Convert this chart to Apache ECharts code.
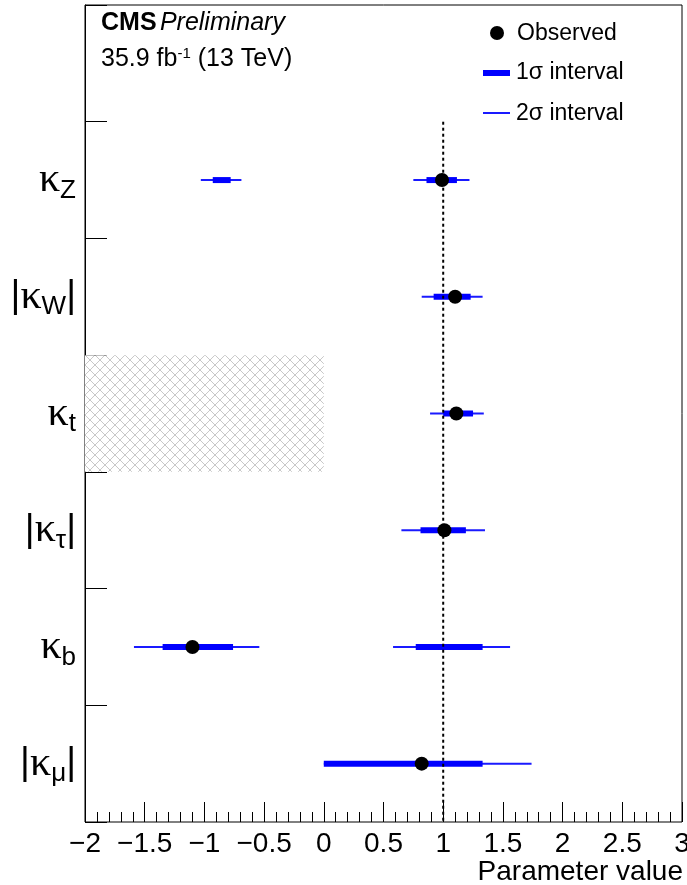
<!DOCTYPE html>
<html>
<head>
<meta charset="utf-8">
<script src="https://cdn.jsdelivr.net/npm/echarts@6/dist/echarts.min.js"></script>
<style>
  html, body { margin: 0; padding: 0; background: #fff; }
  #main { width: 687px; height: 885px; }
</style>
</head>
<body>
<div id="main"></div>
<script>
// parameters, top to bottom
const params = ["kZ", "kW", "kt", "ktau", "kb", "kmu"];
const paramSub = ["Z", "W", "t", "τ", "b", "μ"];
const paramAbs = [false, true, false, true, false, true];

const observed = [0.99, 1.1, 1.11, 1.01, -1.1, 0.82];

// [param, low, high]
const oneSigma = [
  ["kZ", -0.93, -0.78], ["kZ", 0.86, 1.115],
  ["kW", 0.92, 1.23],
  ["kt", 1.0, 1.25],
  ["ktau", 0.81, 1.19],
  ["kb", -1.35, -0.76], ["kb", 0.77, 1.33],
  ["kmu", 0.0, 1.33]
];
const twoSigma = [
  ["kZ", -1.03, -0.69], ["kZ", 0.75, 1.22],
  ["kW", 0.82, 1.33],
  ["kt", 0.89, 1.34],
  ["ktau", 0.65, 1.35],
  ["kb", -1.59, -0.54], ["kb", 0.58, 1.56],
  ["kmu", 0.0, 1.74]
];
// excluded region (hatched)
const excluded = [["kt", -2, 0]];

const xMin = -2, xMax = 3, xStep = 0.5;
const smRef = 1;

const yCats = [""].concat(params);
const idx = (p) => yCats.indexOf(p);

const FONT = "Liberation Sans, Arial, sans-serif";
const SERIF = "Liberation Serif, Times New Roman, serif";

const labelText = {};
params.forEach((p, i) => {
  const bar = paramAbs[i] ? "{a||}" : "";
  labelText[p] = bar + "{k|κ}{s|" + paramSub[i] + "}" + bar;
});

// crosshatch pattern
const hatch = document.createElement("canvas");
hatch.width = 10; hatch.height = 10;
(function () {
  const c = hatch.getContext("2d");
  c.fillStyle = "#fff";
  c.fillRect(0, 0, 10, 10);
  c.strokeStyle = "#c8c8c8";
  c.lineWidth = 1;
  c.beginPath();
  c.moveTo(0, 0); c.lineTo(10, 10);
  c.moveTo(10, 0); c.lineTo(0, 10);
  c.stroke();
})();

function intervalSeries(name, rows, width, color) {
  return {
    name: name,
    type: "custom",
    z: 3,
    encode: { x: [0, 1], y: 2 },
    data: rows.map((r) => [r[1], r[2], idx(r[0])]),
    renderItem: function (p, api) {
      const a = api.coord([api.value(0), api.value(2)]);
      const b = api.coord([api.value(1), api.value(2)]);
      return {
        type: "line",
        shape: { x1: a[0], y1: a[1], x2: b[0], y2: b[1] },
        style: { stroke: color, lineWidth: width }
      };
    }
  };
}

const chart = echarts.init(document.getElementById("main"));
chart.setOption({
  animation: false,
  backgroundColor: "#fff",
  grid: {
    left: 85, right: 5, top: 5, bottom: 63,
    outerBoundsMode: "none", containLabel: false,
    show: true, borderColor: "#000", borderWidth: 1, backgroundColor: "transparent"
  },
  xAxis: {
    type: "value",
    min: xMin, max: xMax, interval: xStep,
    axisLine: { onZero: false, lineStyle: { color: "#000", width: 1 } },
    axisTick: { show: true, inside: true, length: 20, lineStyle: { color: "#000" } },
    minorTick: { show: true, splitNumber: 5, length: 10, lineStyle: { color: "#000" } },
    splitLine: { show: false },
    axisLabel: {
      margin: 8, color: "#000", fontSize: 28, fontFamily: FONT,
      formatter: (v) => String(v).replace("-", "−")
    }
  },
  yAxis: {
    type: "category",
    data: yCats,
    inverse: true,
    axisLine: { onZero: false, lineStyle: { color: "#000", width: 1 } },
    axisTick: { show: true, inside: true, length: 22, lineStyle: { color: "#000" } },
    splitLine: { show: false },
    axisLabel: {
      margin: 9, color: "#000", fontFamily: FONT,
      formatter: (v) => labelText[v] || "",
      rich: {
        a: { fontSize: 38, fontFamily: FONT, color: "#000" },
        k: { fontSize: 42, fontFamily: SERIF, color: "#000" },
        s: { fontSize: 26, fontFamily: FONT, color: "#000", padding: [21, 0, 0, 0] }
      }
    }
  },
  series: [
    {
      name: "excluded",
      type: "custom",
      z: 1,
      encode: { x: [0, 1], y: 2 },
      data: excluded.map((r) => [r[1], r[2], idx(r[0])]),
      renderItem: function (p, api) {
        const h = api.size([0, 1])[1];
        const a = api.coord([api.value(0), api.value(2)]);
        const b = api.coord([api.value(1), api.value(2)]);
        return {
          type: "rect",
          shape: { x: a[0], y: a[1] - h / 2, width: b[0] - a[0], height: h },
          style: { fill: { image: hatch, repeat: "repeat" } }
        };
      }
    },
    intervalSeries("2σ interval", twoSigma, 2, "#1a1aff"),
    intervalSeries("1σ interval", oneSigma, 6, "#0000ff"),
    {
      name: "SM",
      type: "custom",
      z: 4,
      data: [[smRef, 1]],
      renderItem: function (p, api) {
        const h = api.size([0, 1])[1];
        const top = api.coord([api.value(0), 1]);
        const bot = api.coord([api.value(0), yCats.length - 1]);
        return {
          type: "line",
          shape: { x1: top[0], y1: top[1] - h / 2, x2: bot[0], y2: bot[1] + h / 2 },
          style: { stroke: "#000", lineWidth: 2, lineDash: [3, 3] }
        };
      }
    },
    {
      name: "Observed",
      type: "scatter",
      z: 5,
      symbol: "circle",
      symbolSize: 14,
      itemStyle: { color: "#000", opacity: 1 },
      data: observed.map((v, i) => [v, idx(params[i])])
    }
  ],
  graphic: [
    {
      type: "text", left: 101, top: 11,
      style: {
        text: "{b|CMS} {i|Preliminary}",
        rich: {
          b: { fontSize: 25, fontWeight: "bold", fontFamily: FONT, fill: "#000" },
          i: { fontSize: 25, fontStyle: "italic", fontFamily: FONT, fill: "#000" }
        }
      }
    },
    {
      type: "text", left: 101, top: 46,
      style: {
        text: "{n|35.9 fb}{p|-1}{n| (13 TeV)}",
        rich: {
          n: { fontSize: 25, fontFamily: FONT, fill: "#000" },
          p: { fontSize: 15, fontFamily: FONT, fill: "#000", padding: [0, 0, 12, 0] }
        }
      }
    },
    { type: "circle", shape: { cx: 497, cy: 33, r: 7 }, style: { fill: "#000" } },
    { type: "text", left: 517, top: 22, style: { text: "Observed", fontSize: 23, fontFamily: FONT, fill: "#000" } },
    { type: "line", shape: { x1: 483, y1: 73, x2: 510, y2: 73 }, style: { stroke: "#0000ff", lineWidth: 6 } },
    { type: "text", left: 516, top: 61, style: { text: "1σ interval", fontSize: 23, fontFamily: FONT, fill: "#000" } },
    { type: "line", shape: { x1: 483, y1: 113, x2: 510, y2: 113 }, style: { stroke: "#1a1aff", lineWidth: 2 } },
    { type: "text", left: 516, top: 102, style: { text: "2σ interval", fontSize: 23, fontFamily: FONT, fill: "#000" } },
    {
      type: "text", right: 4, top: 858,
      style: { text: "Parameter value", fontSize: 28, fontFamily: FONT, fill: "#000" }
    }
  ]
});
</script>
</body>
</html>
